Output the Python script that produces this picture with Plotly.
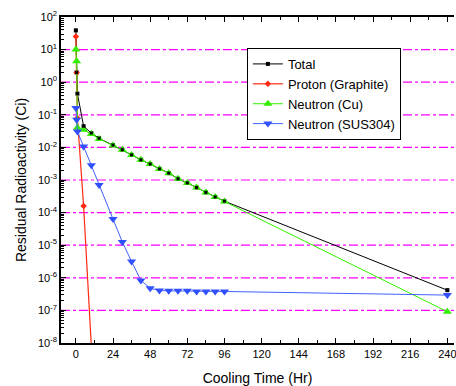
import plotly.graph_objects as go

# Cooling time (hours)
t_main = [0, 0.5, 1, 5, 10, 15, 24, 30, 36, 42, 48, 54, 60, 66, 72, 78, 84, 90, 96, 240]
t_proton = [0, 0.5, 1, 5, 10]

# log10 of activity (Ci)
log_total = [1.59, 0.30, -0.35, -1.35, -1.56, -1.72, -1.93, -2.07, -2.23, -2.38, -2.51, -2.66,
             -2.79, -2.96, -3.09, -3.23, -3.38, -3.52, -3.65, -6.38]
log_proton = [1.40, 0.30, -1.10, -3.80, -8.10]
log_cu = [1.00, 0.64, -1.40, -1.46, -1.59, -1.74, -1.94, -2.07, -2.23, -2.38, -2.51, -2.66,
          -2.79, -2.96, -3.09, -3.23, -3.38, -3.52, -3.66, -7.04]
log_sus = [-0.79, -1.15, -1.51, -1.97, -2.55, -3.15, -4.20, -4.90, -5.50, -6.08, -6.32, -6.39,
           -6.40, -6.40, -6.40, -6.42, -6.42, -6.42, -6.42, -6.53]

names = ["Total", "Proton (Graphite)", "Neutron (Cu)", "Neutron (SUS304)"]
ytick_exp = list(range(-8, 3))
grid_exp = list(range(-7, 2))
xtick_vals = list(range(0, 241, 24))

total = [10 ** v for v in log_total]
proton = [10 ** v for v in log_proton]
cu = [10 ** v for v in log_cu]
sus = [10 ** v for v in log_sus]

FONT = "Arial, Liberation Sans, sans-serif"

fig = go.Figure()
fig.add_trace(go.Scatter(x=t_main, y=total, name=names[0], mode="lines+markers",
                         line=dict(color="#000000", width=1),
                         marker=dict(symbol="square", size=4, color="#000000")))
fig.add_trace(go.Scatter(x=t_proton, y=proton, name=names[1], mode="lines+markers",
                         line=dict(color="#ff2a10", width=1.2),
                         marker=dict(symbol="diamond", size=5, color="#ff2a10")))
fig.add_trace(go.Scatter(x=t_main, y=cu, name=names[2], mode="lines+markers",
                         line=dict(color="#33ee00", width=1),
                         marker=dict(symbol="triangle-up", size=8, color="#33ee00")))
fig.add_trace(go.Scatter(x=t_main, y=sus, name=names[3], mode="lines+markers",
                         line=dict(color="#4060ff", width=1),
                         marker=dict(symbol="triangle-down", size=8, color="#3050ff")))
# re-draw total markers on top of the green triangles
fig.add_trace(go.Scatter(x=t_main, y=total, mode="markers", showlegend=False,
                         marker=dict(symbol="square", size=3, color="#000000"),
                         hoverinfo="skip"))

# magenta dash-dot decade grid lines (drawn below the data)
for e in grid_exp:
    fig.add_shape(type="line", xref="paper", x0=0, x1=1, yref="y", y0=10 ** e, y1=10 ** e,
                  line=dict(color="#ff00ff", width=1.2, dash="dashdot"), layer="below")

fig.update_layout(
    width=456, height=386,
    margin=dict(l=61, r=0, t=17, b=43),
    paper_bgcolor="white", plot_bgcolor="white",
    font=dict(family=FONT, size=11, color="#000000"),
    legend=dict(x=0.473, y=0.905, xanchor="left", yanchor="top",
                bgcolor="white", bordercolor="#000000", borderwidth=1,
                font=dict(size=13, family=FONT), tracegroupgap=0, itemwidth=30),
    showlegend=True,
)

fig.update_xaxes(
    range=[-9.6, 244.3], tickvals=xtick_vals, ticktext=[str(v) for v in xtick_vals],
    ticklabeloverflow="allow",
    ticks="inside", ticklen=5, tickcolor="#000000",
    minor=dict(dtick=12, tick0=0, ticks="inside", ticklen=3, tickcolor="#000000"),
    showline=True, linecolor="#000000", linewidth=1.5, mirror="ticks",
    showgrid=False, zeroline=False,
    tickfont=dict(size=11),
    title=dict(text="Cooling Time (Hr)", font=dict(size=14), standoff=14),
)

fig.update_yaxes(
    type="log", range=[-8, 2],
    tickvals=[10 ** e for e in ytick_exp],
    ticktext=["10<sup>%d</sup>" % e for e in ytick_exp],
    ticks="inside", ticklen=5, tickcolor="#000000",
    minor=dict(dtick="D1", ticks="inside", ticklen=3, tickcolor="#000000", showgrid=False),
    showline=True, linecolor="#000000", linewidth=1.5, mirror=False,
    showgrid=False, zeroline=False,
    tickfont=dict(size=11),
    title=dict(text="Residual Radioactivity (Ci)", font=dict(size=14), standoff=8),
)

fig.write_html("out.html")
